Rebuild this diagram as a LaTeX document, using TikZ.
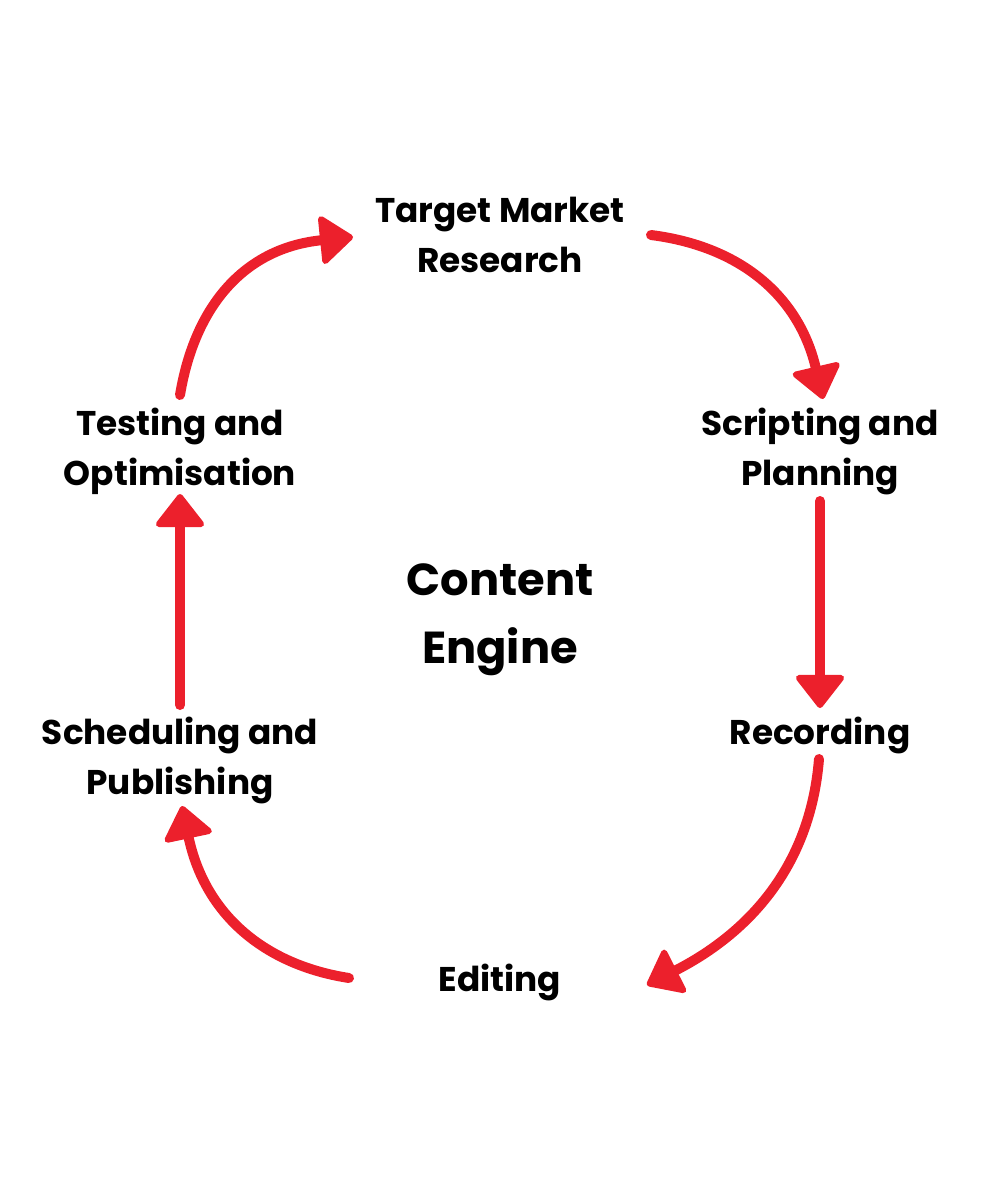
\documentclass[tikz,border=0pt]{standalone}
\usepackage{fontspec}
\setmainfont{Poppins}
\usetikzlibrary{arrows.meta}
\definecolor{cred}{RGB}{236,32,44}
\tikzset{
  lbl/.style={font=\bfseries\fontsize{34.3}{50}\selectfont, align=center, inner sep=0pt, text=black},
  title/.style={font=\bfseries\fontsize{44.8}{68}\selectfont, align=center, inner sep=0pt, text=black},
  flow/.style={draw=cred, line width=10pt, line cap=round,
    -{Triangle[length=35pt,width=53pt,line width=6pt,round]}},
}
\begin{document}
\begin{tikzpicture}[x=1pt,y=-1pt]
\useasboundingbox (0,0) rectangle (1000,1200);
\node[lbl] (tmr) at (500,235) {Target Market\\Research};
\node[lbl] (sp) at (820,451) {Scripting and\\Planning};
\node[lbl] (rec) at (820,735) {Recording};
\node[lbl] (edi) at (500,982) {Editing};
\node[lbl] (schp) at (180,760) {Scheduling and\\Publishing};
\node[lbl] (to) at (180,451) {Testing and\\Optimisation};
\node[title] (ce) at (500,620) {Content\\Engine};
% endpoints
\coordinate (a1s) at (180,395);
\coordinate (a1e) at (353,237);
\coordinate (a2s) at (651,235);
\coordinate (a2e) at (823,399);
\coordinate (a3s) at (820,501);
\coordinate (a3e) at (820,708);
\coordinate (a4s) at (819,759);
\coordinate (a4e) at (647,985);
\coordinate (a5s) at (349,978);
\coordinate (a5e) at (182,806);
\coordinate (a6s) at (180,705);
\coordinate (a6e) at (180,494);
\draw[flow] (a1s) .. controls (195,305) and (245,248) .. (a1e);
\draw[flow] (a2s) .. controls (745,247) and (800,300) .. (a2e);
\draw[flow] (a3s) -- (a3e);
\draw[flow] (a4s) .. controls (810,870) and (745,935) .. (a4e);
\draw[flow] (a5s) .. controls (265,965) and (205,915) .. (a5e);
\draw[flow] (a6s) -- (a6e);
\end{tikzpicture}
\end{document}
